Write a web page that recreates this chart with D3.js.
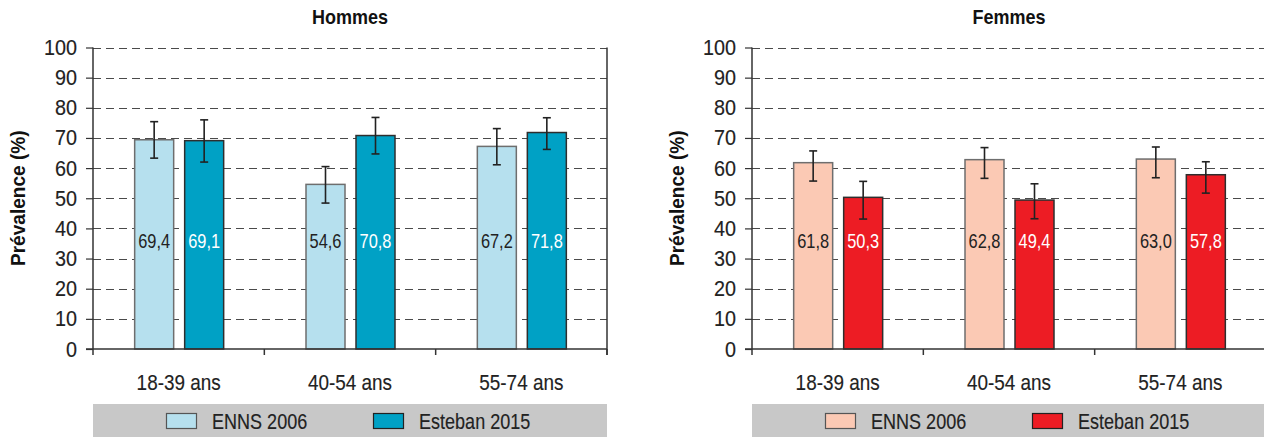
<!DOCTYPE html>
<html><head><meta charset="utf-8">
<script src="https://cdn.jsdelivr.net/npm/d3@7"></script>
<style>
html,body{margin:0;padding:0;background:#fff;}
svg{display:block;}
text{font-family:"Liberation Sans Narrow","Arial Narrow","Liberation Sans",Arial,sans-serif;}
</style></head>
<body>
<svg id="chart" width="1264" height="437"></svg>
<script>
const categories = ["18-39 ans", "40-54 ans", "55-74 ans"];
const seriesNames = ["ENNS 2006", "Esteban 2015"];
const yTicks = [0, 10, 20, 30, 40, 50, 60, 70, 80, 90, 100];

const hommesENNS = [69.4, 54.6, 67.2];
const hommesENNSLow = [63.3, 48.4, 61.1];
const hommesENNSHigh = [75.4, 60.5, 73.1];
const hommesEsteban = [69.1, 70.8, 71.8];
const hommesEstebanLow = [62.0, 64.7, 66.2];
const hommesEstebanHigh = [76.0, 76.8, 76.7];

const femmesENNS = [61.8, 62.8, 63.0];
const femmesENNSLow = [55.7, 56.6, 56.8];
const femmesENNSHigh = [65.7, 66.8, 67.0];
const femmesEsteban = [50.3, 49.4, 57.8];
const femmesEstebanLow = [43.1, 43.2, 51.7];
const femmesEstebanHigh = [55.6, 54.8, 62.1];

const svg = d3.select("#chart");
const fmt = v => d3.format(".1f")(v).replace(".", ",");

// condensed look: squeeze text horizontally
function squeeze(sel, s, sw) {
  sel.each(function () {
    const t = d3.select(this);
    const x = +t.attr("x") || 0, y = +t.attr("y") || 0;
    t.attr("x", null).attr("y", null)
      .attr("transform", `translate(${x},${y}) scale(${s},1)`);
    if (sw) t.attr("stroke", t.attr("fill")).attr("stroke-width", sw);
  });
}

function panel(opts) {
  const x0 = opts.left, x1 = opts.right;
  const xr = Math.min(x1, 1264);
  const yTop = 47.5, yBot = 349;
  const g = svg.append("g");
  const x = d3.scaleBand().domain(categories).range([x0, x1]).padding(0);
  const y = d3.scaleLinear().domain([0, 100]).range([yBot, yTop]);
  const xs = d3.scaleBand().domain(seriesNames)
    .range([-44.5, 44.5]).paddingInner(0.22);

  // gridlines
  g.append("g").selectAll("line").data(yTicks.filter(d => d > 0)).join("line")
    .attr("x1", x0).attr("x2", xr)
    .attr("y1", d => Math.round(y(d)) + 0.5).attr("y2", d => Math.round(y(d)) + 0.5)
    .attr("stroke", "#4a4a4a").attr("stroke-width", 1)
    .attr("stroke-dasharray", "8,5");

  // y axis
  const ya = d3.axisLeft(y).tickValues(yTicks).tickSize(7).tickPadding(9);
  const yg = g.append("g").attr("transform", `translate(${x0},0)`).call(ya);
  yg.select(".domain").remove();
  yg.selectAll(".tick line").attr("stroke", "#333").attr("stroke-width", 1.2);
  yg.selectAll(".tick text").attr("font-size", 22).attr("fill", "#222")
    .attr("font-family", "Liberation Sans Narrow, Arial Narrow, Liberation Sans, sans-serif");
  squeeze(yg.selectAll(".tick text"), 0.9, 0.15);
  g.append("line").attr("x1", x0).attr("x2", x0).attr("y1", yTop).attr("y2", yBot)
    .attr("stroke", "#333").attr("stroke-width", 1.5);
  g.append("line").attr("x1", x1).attr("x2", x1).attr("y1", yTop).attr("y2", yBot + 6)
    .attr("stroke", "#333").attr("stroke-width", 1.5);

  // bars
  const data = [];
  categories.forEach((c, i) => {
    data.push({c, s: seriesNames[0], v: opts.a[i], lo: opts.aLo[i], hi: opts.aHi[i]});
    data.push({c, s: seriesNames[1], v: opts.b[i], lo: opts.bLo[i], hi: opts.bHi[i]});
  });
  const cx = d => x(d.c) + x.bandwidth() / 2 + xs(d.s);
  g.append("g").selectAll("rect").data(data).join("rect")
    .attr("x", d => cx(d) + 0.5)
    .attr("y", d => y(d.v))
    .attr("width", xs.bandwidth())
    .attr("height", d => y(0) - y(d.v))
    .attr("fill", d => d.s === seriesNames[0] ? opts.colA : opts.colB)
    .attr("stroke", d => d.s === seriesNames[0] ? "#6e6e6e" : "#2e2e2e")
    .attr("stroke-width", 1.5);

  // x axis
  g.append("line").attr("x1", x0 - 7).attr("x2", xr).attr("y1", yBot).attr("y2", yBot)
    .attr("stroke", "#333").attr("stroke-width", 1.5);
  const bounds = categories.map(c => x(c)).concat([x1]);
  g.append("g").selectAll("line").data(bounds).join("line")
    .attr("x1", d => d).attr("x2", d => d).attr("y1", yBot).attr("y2", yBot + 6)
    .attr("stroke", "#333").attr("stroke-width", 1.5);
  const cl = g.append("g").selectAll("text").data(categories).join("text")
    .attr("x", d => x(d) + x.bandwidth() / 2).attr("y", 382)
    .attr("text-anchor", "middle").attr("dominant-baseline", "central")
    .attr("font-size", 22).attr("fill", "#222").text(d => d);
  squeeze(cl, 0.86, 0.15);

  // error bars
  const eb = g.append("g").selectAll("g").data(data).join("g")
    .attr("stroke", "#222").attr("stroke-width", 1.6);
  const ex = d => cx(d) + 0.5 + xs.bandwidth() / 2;
  eb.append("line").attr("x1", ex).attr("x2", ex).attr("y1", d => y(d.hi)).attr("y2", d => y(d.lo));
  eb.append("line").attr("x1", d => ex(d) - 4).attr("x2", d => ex(d) + 4).attr("y1", d => y(d.hi)).attr("y2", d => y(d.hi));
  eb.append("line").attr("x1", d => ex(d) - 4).attr("x2", d => ex(d) + 4).attr("y1", d => y(d.lo)).attr("y2", d => y(d.lo));

  // value labels
  const vl = g.append("g").selectAll("text").data(data).join("text")
    .attr("x", ex).attr("y", y(35.8))
    .attr("text-anchor", "middle").attr("dominant-baseline", "central")
    .attr("font-size", 20)
    .attr("fill", d => d.s === seriesNames[0] ? "#222" : "#fff")
    .text(d => fmt(d.v));
  squeeze(vl, 0.82);

  // title
  const tt = g.append("text").attr("x", (x0 + x1) / 2).attr("y", 17)
    .attr("text-anchor", "middle").attr("dominant-baseline", "central")
    .attr("font-size", 20).attr("font-weight", "bold").attr("fill", "#111")
    .text(opts.title);
  squeeze(tt, 0.9);

  // y title
  g.append("text").attr("transform", `translate(${x0 - 75},${(yTop + yBot) / 2}) rotate(-90) scale(0.93,1)`)
    .attr("text-anchor", "middle").attr("dominant-baseline", "central")
    .attr("font-size", 20.5).attr("font-weight", "bold").attr("fill", "#111")
    .text("Prévalence (%)");

  // legend
  g.append("rect").attr("x", x0).attr("y", 404).attr("width", xr - x0).attr("height", 33)
    .attr("fill", "#c8c8c8");
  const lx = [x0 + 73, x0 + 280];
  seriesNames.forEach((s, i) => {
    g.append("rect").attr("x", lx[i] + 0.5).attr("y", 413.5).attr("width", 30).attr("height", 15)
      .attr("fill", i === 0 ? opts.colA : opts.colB)
      .attr("stroke", i === 0 ? "#555" : "#222").attr("stroke-width", 1.2);
    const lt = g.append("text").attr("x", lx[i] + 46).attr("y", 421)
      .attr("dominant-baseline", "central").attr("font-size", 22).attr("fill", "#222").text(s);
    squeeze(lt, 0.82, 0.15);
  });
}

panel({left: 93, right: 607, title: "Hommes",
  a: hommesENNS, aLo: hommesENNSLow, aHi: hommesENNSHigh,
  b: hommesEsteban, bLo: hommesEstebanLow, bHi: hommesEstebanHigh,
  colA: "#b6e0ee", colB: "#00a1c5"});
panel({left: 752, right: 1266, title: "Femmes",
  a: femmesENNS, aLo: femmesENNSLow, aHi: femmesENNSHigh,
  b: femmesEsteban, bLo: femmesEstebanLow, bHi: femmesEstebanHigh,
  colA: "#fbc9b4", colB: "#ed1c24"});
</script>
</body></html>
